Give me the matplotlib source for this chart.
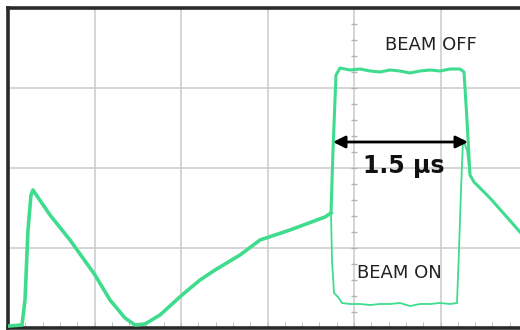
import matplotlib.pyplot as plt
import numpy as np

# scope screen: 86.5 px per horizontal division, 80 px per vertical division
# trace points, in divisions (x from left frame, y from bottom)
px_div, py_div = 86.5, 80.0

def to_div(pts):
    a = np.array(pts, dtype=float)
    return (a[:, 0] - 8) / px_div, (328 - a[:, 1]) / py_div

common = [(9, 326), (22, 325), (25, 300), (28, 230), (31, 195), (33, 190), (37, 196),
          (50, 215), (70, 240), (95, 275), (110, 300), (125, 318), (135, 325), (145, 324),
          (160, 315), (182, 295), (200, 280), (215, 270), (240, 255), (260, 240),
          (290, 230), (325, 217), (331, 213)]
beam_off = [(331, 213), (333, 150), (336, 75), (340, 68), (350, 70), (360, 69), (370, 71),
            (380, 72), (390, 70), (400, 71), (410, 73), (420, 71), (430, 70), (440, 71),
            (450, 69), (460, 69), (464, 72), (467, 120), (470, 175), (474, 182),
            (490, 198), (505, 215), (520, 232)]
beam_on = [(331, 213), (332, 260), (334, 293), (338, 297), (342, 303), (350, 304),
           (360, 304), (370, 305), (380, 304), (390, 304), (400, 303), (410, 306),
           (420, 304), (430, 304), (440, 303), (450, 304), (457, 303), (459, 250),
           (461, 190), (463, 140), (467, 150), (470, 176)]

green = '#3fdc8e'

fig = plt.figure(figsize=(5.2, 3.3), dpi=100, facecolor='white')
ax = fig.add_axes([8 / 520, 2 / 330, 512 / 520, 320 / 330])
ax.set_xlim(0, 512 / px_div)
ax.set_ylim(0, 4)

for v in range(1, 6):
    ax.axvline(v, color='#cacaca', lw=1.1, zorder=1)
for h in range(1, 4):
    ax.axhline(h, color='#cacaca', lw=1.1, zorder=1)

# minor ticks along the centre line and the bottom edge
ax.plot(np.full(20, 4.0), np.arange(0, 4, 0.2), ls='none', marker='_', ms=5,
        color='#b4b4b4', zorder=1)
ax.set_xticks(np.arange(0, 6, 0.2), minor=True)
ax.set_xticks([])
ax.set_yticks([])
ax.tick_params(which='minor', direction='in', length=4, color='#bcbcbc', bottom=True)

for s in ['left', 'top', 'bottom']:
    ax.spines[s].set_linewidth(2.6)
    ax.spines[s].set_color('#2a2a2a')
ax.spines['right'].set_visible(False)

x, y = to_div(common)
ax.plot(x, y, color=green, lw=2.6, solid_joinstyle='round', zorder=3)
x, y = to_div(beam_off)
ax.plot(x, y, color=green, lw=2.2, solid_joinstyle='round', zorder=3)
x, y = to_div(beam_on)
ax.plot(x, y, color=green, lw=1.3, solid_joinstyle='round', zorder=3)

(ax0, ax1), (ay, _) = to_div([(333, 142), (468, 142)])
ax.annotate('', xy=(ax1, ay), xytext=(ax0, ay),
            arrowprops=dict(arrowstyle='<|-|>', color='black', lw=2,
                            mutation_scale=18, shrinkA=0, shrinkB=0), zorder=4)

tx, ty = to_div([(431, 45), (404, 166), (399, 273)])
ax.text(tx[0], ty[0], 'BEAM OFF', ha='center', va='center', fontsize=13, color='#222222')
ax.text(tx[1], ty[1], '1.5 µs', ha='center', va='center', fontsize=17,
        fontweight='bold', color='#111111')
ax.text(tx[2], ty[2], 'BEAM ON', ha='center', va='center', fontsize=13, color='#222222')

fig.savefig('out.png', dpi=100)
